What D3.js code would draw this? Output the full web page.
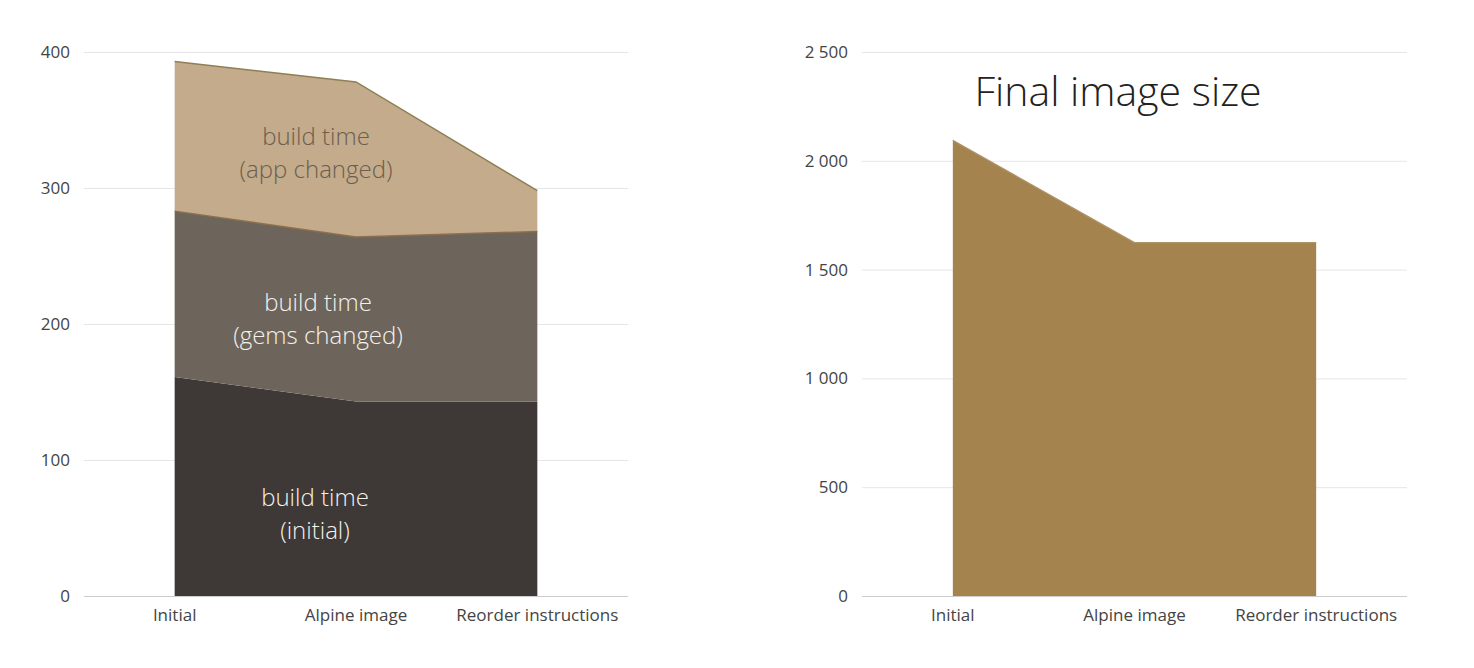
<!DOCTYPE html>
<html>
<head>
<meta charset="utf-8">
<script src="https://cdn.jsdelivr.net/npm/d3@7"></script>
<style>
  html, body { margin: 0; padding: 0; background: #fff; }
  svg { display: block; font-family: "Open Sans", sans-serif; }
</style>
</head>
<body>
<svg id="chart" width="1474" height="668"></svg>
<script>
// ---- data ----
const categories = ["Initial", "Alpine image", "Reorder instructions"];
const buildInitial = [161, 143, 143];
const buildGems = [122, 121, 125];
const buildApp = [110, 114, 30];
const seriesNames = ["build time\n(initial)", "build time\n(gems changed)", "build time\n(app changed)"];
const leftTicks = [0, 100, 200, 300, 400];
const imageSize = [2094, 1624, 1624];
const rightTicks = [0, 500, 1000, 1500, 2000, 2500];
const rightTitle = "Final image size";

// ---- layout ----
const svg = d3.select("#chart");
const plotTop = 52, plotBottom = 596;
const leftPlot = { x0: 84, x1: 628 };
const rightPlot = { x0: 862, x1: 1407 };

const locale = d3.formatLocale({ decimal: ".", thousands: "\u00a0", grouping: [3], currency: ["", ""] });
const fmt = locale.format(",d");

function drawFrame(g, x, y, ticks, plot) {
  g.append("g").selectAll("line").data(ticks.filter(t => t !== 0)).join("line")
    .attr("x1", plot.x0).attr("x2", plot.x1)
    .attr("y1", d => y(d) + 0.5).attr("y2", d => y(d) + 0.5)
    .attr("stroke", "#e6e6e6").attr("stroke-width", 1);
  g.append("g").selectAll("text").data(ticks).join("text")
    .attr("x", plot.x0 - 14).attr("y", d => y(d)).attr("dy", "0.35em")
    .attr("text-anchor", "end").attr("font-size", 17).attr("fill", "#444")
    .text(d => fmt(d));
  g.append("g").selectAll("text").data(categories).join("text")
    .attr("x", d => x(d)).attr("y", plotBottom + 25)
    .attr("text-anchor", "middle").attr("font-size", 17).attr("fill", "#444")
    .text(d => d);
}

// ---- left chart ----
{
  const x = d3.scalePoint().domain(categories).range([leftPlot.x0, leftPlot.x1]).padding(0.5);
  const y = d3.scaleLinear().domain([0, 400]).range([plotBottom, plotTop]);
  const g = svg.append("g");
  drawFrame(g, x, y, leftTicks, leftPlot);

  const rows = categories.map((c, i) => ({ cat: c, a: buildInitial[i], b: buildGems[i], c: buildApp[i] }));
  const layers = d3.stack().keys(["a", "b", "c"])(rows);
  const fills = ["#3e3836", "#6d655b", "#c4ab8b"];
  const strokes = [null, "#8b6f4e", "#8f7f55"];
  const area = d3.area().x(d => x(d.data.cat)).y0(d => y(d[0])).y1(d => y(d[1]));
  const line = d3.line().x(d => x(d.data.cat)).y(d => y(d[1]));

  g.append("g").selectAll("path").data(layers).join("path")
    .attr("d", area).attr("fill", (d, i) => fills[i]);
  g.append("g").selectAll("path").data(layers.filter((d, i) => strokes[i])).join("path")
    .attr("d", line).attr("fill", "none")
    .attr("stroke", d => strokes[d.index]).attr("stroke-width", 1.5);

  g.append("line").attr("x1", leftPlot.x0).attr("x2", leftPlot.x1)
    .attr("y1", y(0) + 0.5).attr("y2", y(0) + 0.5).attr("stroke", "#ccc");

  const labelColors = ["#f4f1ec", "#f4f1ec", "#6b5e4f"];
  const labelPos = [
    { x: 315, v: 72 },
    { x: 318, v: 216 },
    { x: 316, v: 338 }
  ];
  layers.forEach((layer, i) => {
    const lines = seriesNames[i].split("\n");
    const t = g.append("text")
      .attr("text-anchor", "middle").attr("font-size", 24).attr("font-weight", 300)
      .attr("fill", labelColors[i]);
    lines.forEach((ln, k) => {
      t.append("tspan").attr("x", labelPos[i].x)
        .attr("y", y(labelPos[i].v) + k * 33).attr("dy", "0.35em").text(ln);
    });
  });
}

// ---- right chart ----
{
  const x = d3.scalePoint().domain(categories).range([rightPlot.x0, rightPlot.x1]).padding(0.5);
  const y = d3.scaleLinear().domain([0, 2500]).range([plotBottom, plotTop]);
  const g = svg.append("g");
  drawFrame(g, x, y, rightTicks, rightPlot);

  const rows = categories.map((c, i) => ({ cat: c, v: imageSize[i] }));
  const area = d3.area().x(d => x(d.cat)).y0(y(0)).y1(d => y(d.v));
  g.append("path").datum(rows).attr("d", area).attr("fill", "#a4834f");
  g.append("path").datum(rows)
    .attr("d", d3.line().x(d => x(d.cat)).y(d => y(d.v)))
    .attr("fill", "none").attr("stroke", "#b09468").attr("stroke-width", 1.2);

  g.append("line").attr("x1", rightPlot.x0).attr("x2", rightPlot.x1)
    .attr("y1", y(0) + 0.5).attr("y2", y(0) + 0.5).attr("stroke", "#ccc");

  g.append("text").attr("x", 1118).attr("y", 106)
    .attr("text-anchor", "middle").attr("font-size", 41).attr("font-weight", 300)
    .attr("fill", "#222").text(rightTitle);
}
</script>
</body>
</html>
